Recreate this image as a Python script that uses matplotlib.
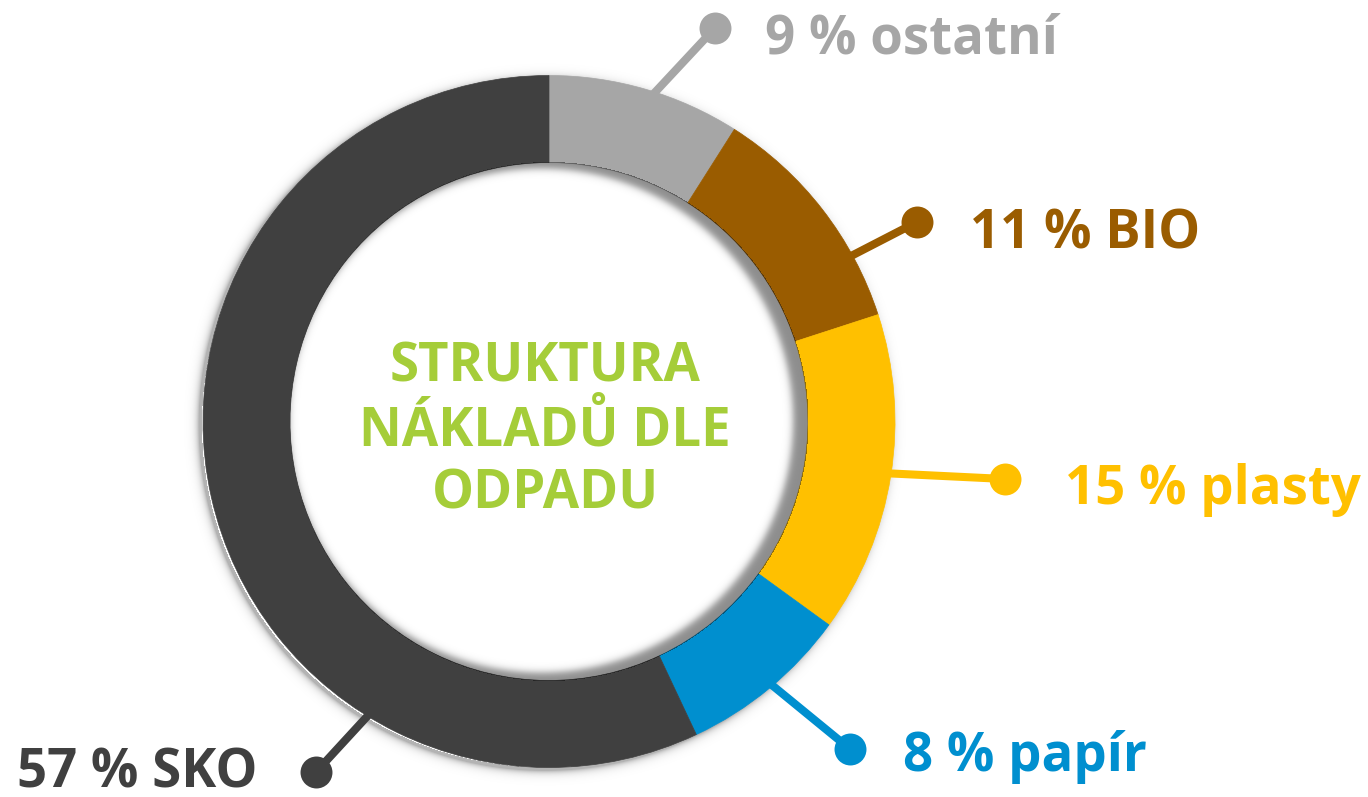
import numpy as np
import matplotlib.pyplot as plt

plt.rcParams['font.family'] = ['Open Sans', 'DejaVu Sans']

# data
names = ['ostatní', 'BIO', 'plasty', 'papír', 'SKO']
values = [9, 11, 15, 8, 57]
colors = ['#A6A6A6', '#9A5C00', '#FFC000', '#008FCF', '#404040']
title_lines = ['STRUKTURA', 'NÁKLADŮ DLE', 'ODPADU']

# layout (pixels, y down)
W, H = 1368, 797
cx, cy = 549, 421.5
r_out, ring = 346, 87
anchor_frac = [0.045, 0.17, 0.275, 0.39, 0.586]   # where leader lines leave the ring
dots = [(715, 28), (917, 222), (1005, 479), (850, 749), (316, 772)]
text_pos = [(765, 53), (970, 248), (1065, 504), (903, 771), (17, 787)]

fig = plt.figure(figsize=(W / 100, H / 100), dpi=100)
ax = fig.add_axes([0, 0, 1, 1])

# y axis is inverted, so clockwise-from-top becomes this
wedges, _ = ax.pie(values, colors=colors, startangle=-90, counterclock=True,
                   radius=r_out, center=(cx, cy),
                   wedgeprops=dict(width=ring, linewidth=0.5), frame=False)
for w, c in zip(wedges, colors):
    w.set_edgecolor(c)
    w.set_zorder(3)

# soft shadows
yy, xx = np.mgrid[0:H, 0:W] + 0.5
rc = np.hypot(xx - cx, yy - cy)

d_out = np.hypot(xx - (cx - 4), yy - (cy + 3)) - r_out
a_out = np.where(d_out > -3, 0.3 * np.exp(-np.clip(d_out, 0, None) / 3.5), 0)
img = np.zeros((H, W, 4))
img[..., 3] = a_out
ax.imshow(img, extent=(0, W, H, 0), origin='upper', zorder=1, interpolation='bilinear')

r_in = r_out - ring
d_in = np.hypot(xx - (cx - 8), yy - (cy - 1)) - (r_in - 7)
a_in = 0.45 / (1 + np.exp(-d_in / 2.2))
a_in = np.where(rc < r_in + 0.5, a_in, 0)
img2 = np.zeros((H, W, 4))
img2[..., 3] = a_in
ax.imshow(img2, extent=(0, W, H, 0), origin='upper', zorder=4, interpolation='bilinear')

# leader lines, dots and labels
for name, v, c, f, (dx, dy), (tx, ty) in zip(names, values, colors, anchor_frac, dots, text_pos):
    phi = 2 * np.pi * f
    ax_x = cx + (r_out - 20) * np.sin(phi)
    ax_y = cy - (r_out - 20) * np.cos(phi)
    ax.plot([ax_x, dx], [ax_y, dy], color=c, lw=5.8, solid_capstyle='butt', zorder=2)
    ax.plot(dx, dy, 'o', color=c, markersize=23, markeredgewidth=0, zorder=5)
    ax.text(tx, ty, f'{v} % {name}', color=c, fontsize=38, fontweight='bold',
            ha='left', va='baseline', zorder=6)

for line, by in zip(title_lines, [381, 445, 508]):
    ax.text(545, by, line, color='#A5CD39', fontsize=38, fontweight='bold',
            ha='center', va='baseline', zorder=6)

ax.set_xlim(0, W)
ax.set_ylim(H, 0)
ax.set_aspect('equal')
ax.axis('off')

fig.savefig('out.png', dpi=100, facecolor='white')
